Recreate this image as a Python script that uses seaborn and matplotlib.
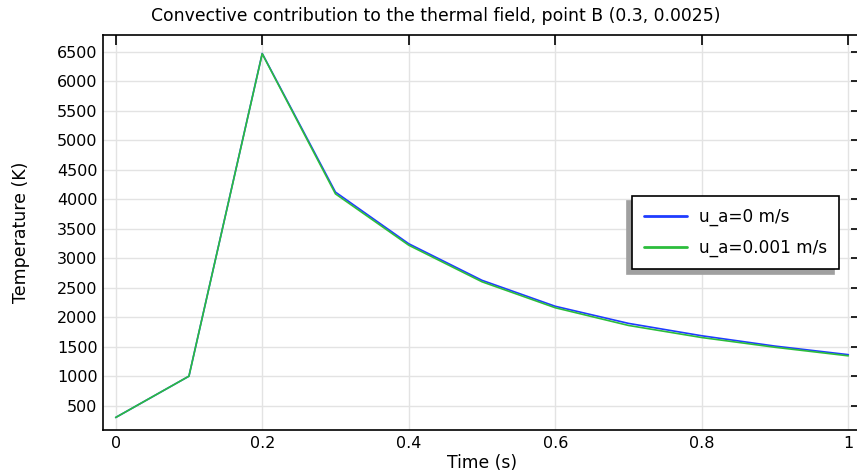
import pandas as pd
import matplotlib
matplotlib.use("Agg")
import matplotlib.pyplot as plt
import seaborn as sns

# Time steps (s)
time = [0.0, 0.1, 0.2, 0.3, 0.4, 0.5, 0.6, 0.7, 0.8, 0.9, 1.0]

# Temperature at point B (K) for each air velocity
temp_u0 = [300, 1000, 6470, 4120, 3245, 2625, 2185, 1895, 1685, 1510, 1365]
temp_u001 = [300, 1000, 6465, 4090, 3220, 2600, 2160, 1860, 1655, 1490, 1345]

series_labels = ["u_a=0 m/s", "u_a=0.001 m/s"]
series_colors = ["#1f3cff", "#2cbd3c"]

x_ticks = [0, 0.2, 0.4, 0.6, 0.8, 1]
x_tick_labels = ["0", "0.2", "0.4", "0.6", "0.8", "1"]
y_ticks = list(range(500, 7000, 500))


def build_frame():
    """Long format table for seaborn."""
    frames = []
    for label, values in zip(series_labels, [temp_u0, temp_u001]):
        frames.append(pd.DataFrame({"Time": time, "Temperature": values, "Case": label}))
    return pd.concat(frames, ignore_index=True)


df = build_frame()

sns.set_style("white")
plt.rcParams["font.family"] = ["DejaVu Sans"]
plt.rcParams["text.color"] = "black"
plt.rcParams["axes.labelcolor"] = "black"

fig = plt.figure(figsize=(8.57, 4.72), dpi=100)
W, H = 857, 472
left, right, top, bottom = 103, 861, 34.7, 430
ax = fig.add_axes([left / W, 1 - bottom / H, (right - left) / W, (bottom - top) / H])

sns.lineplot(data=df, x="Time", y="Temperature", hue="Case",
             palette=dict(zip(series_labels, series_colors)),
             linewidth=1.2, ax=ax, legend=False)

ax.set_xlim(-0.0173, 1.0173)
ax.set_ylim(88, 6788)
ax.set_xticks(x_ticks)
ax.set_xticklabels(x_tick_labels)
ax.set_yticks(y_ticks)
ax.grid(True, color="#e3e3e3", linewidth=1.0)
ax.set_axisbelow(True)

for side in ["left", "right", "top", "bottom"]:
    ax.spines[side].set_visible(True)
    ax.spines[side].set_color("black")
    ax.spines[side].set_linewidth(1.2)

ax.tick_params(axis="both", which="major", direction="in", length=7, width=1.2,
               labelsize=11.5, pad=4, top=True, right=True, colors="black")

ax.set_xlabel("Time (s)", fontsize=12.3, labelpad=2.5, color="black")
ax.set_ylabel("Temperature (K)", fontsize=12.5, labelpad=19, color="black")
# title is centred on the figure, not on the axes
fig.text(436 / W, 1 - 16 / H,
         "Convective contribution to the thermal field, point B (0.3, 0.0025)",
         fontsize=12.4, ha="center", va="center", color="black")

handles = [plt.Line2D([], [], color=c, linewidth=2) for c in series_colors]
leg = ax.legend(handles, series_labels, loc="upper left",
                bbox_to_anchor=(0.698, 0.592), fontsize=12.2, frameon=True,
                fancybox=False, shadow={"color": "#a0a0a0", "alpha": 1, "ox": -3.6, "oy": -3.6},
                edgecolor="black", handlelength=2.55, borderpad=0.7,
                labelspacing=0.77, borderaxespad=0, handletextpad=0.7)
leg.get_frame().set_linewidth(1.2)
for t in leg.get_texts():
    t.set_color("black")

fig.savefig("out.png", dpi=100)
